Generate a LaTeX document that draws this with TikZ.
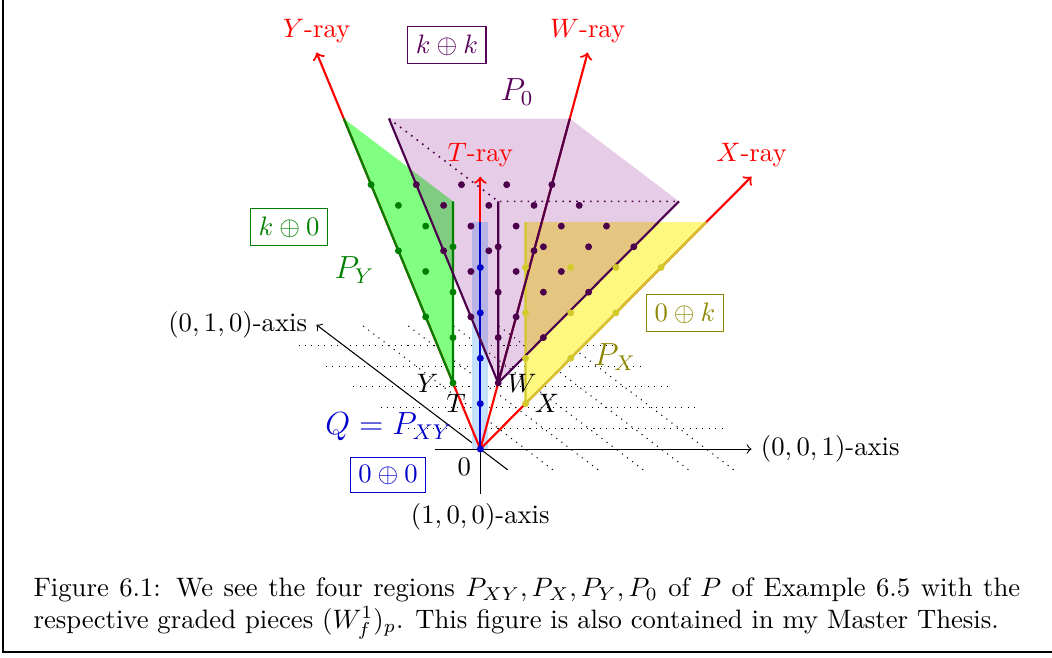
\documentclass[tikz,border=0pt]{standalone}
\usepackage{amsmath,amssymb}
\usetikzlibrary{positioning}
\definecolor{qband}{RGB}{198,224,255}
\tikzset{
  ray/.style={->,red,thick},
  lattice/.style={dotted},
  piecebox/.style={draw,thin,inner sep=3pt},
}
\begin{document}
\begin{tikzpicture}[x={(0cm,0.598cm)},y={(-0.3597cm,0.2727cm)},z={(0.5955cm,0cm)}]
    \useasboundingbox (-6.328cm,-2.740cm) rectangle (7.532cm,5.916cm);
    \draw[line width=0.6pt] (-6.288cm,5.916cm) -- (-6.288cm,-2.675cm) -- (7.532cm,-2.675cm);
    % points
    \coordinate (O) at (0,0,0);
    \coordinate (T) at (1,0,0);
    \coordinate (X) at (1,0,1);
    \coordinate (Y) at (1,1,0);
    \coordinate (W) at (1,1,1);
    \coordinate (T5) at (5,0,0);
    \coordinate (X5) at (5,0,5);
    \coordinate (Y5) at (5,5,0);
    \coordinate (W5) at (5,5,5);
    \coordinate (T6) at (6,0,0);
    \coordinate (X6) at (6,0,6);
    \coordinate (Y6) at (6,6,0);
    \coordinate (W6) at (6,6,6);
    \coordinate (Xc) at (5,0,1);
    \coordinate (Yc) at (5,1,0);
    \coordinate (Wa) at (5,5,1);
    \coordinate (Wb) at (5,1,5);
    \coordinate (Wc) at (5,1,1);
    % lattice in the plane
    \foreach \b in {1,...,5} \draw[lattice] (0,\b,-1) -- (0,\b,6);
    \foreach \c in {1,...,5} \draw[lattice] (0,-1,\c) -- (0,6,\c);
    % axes
    \draw[->] (0,0,-1) -- (0,0,6) node[right] (zaxis) {$(0,0,1)$-axis};
    \draw[->] (0,-1,0) -- (0,6,0) node[left] (yaxis) {$(0,1,0)$-axis};
    \draw (O) -- (-1,0,0) node[below] (xaxis) {$(1,0,0)$-axis};
    % regions
    \fill[green!50] (Y) -- (Y5) -- (Yc) -- cycle;
    \fill[yellow!50] (X) -- (X5) -- (Xc) -- cycle;
    \draw[qband,line width=6pt] (O) -- (T5);
    \fill[violet,fill opacity=0.2] (W) -- (Wa) -- (W5) -- (Wb) -- cycle;
    % rays
    \draw[ray] (O) -- (T6) node[above] (traylab) {$T$-ray};
    \draw[ray] (O) -- (X6) node[above] (xraylab) {$X$-ray};
    \draw[ray] (O) -- (Y6) node[above] (yraylab) {$Y$-ray};
    \draw[ray] (O) -- (W6) node[above] (wraylab) {$W$-ray};
    % edges of the regions
    \draw[green!50!black,thick] (Yc) -- (Y) -- (Y5);
    \draw[yellow!80!black,thick] (Xc) -- (X) -- (X5);
    \draw[blue!80!black,thick] (O) -- (T5);
    \draw[violet!60!black,thick] (W) -- (Wa) (W) -- (W5) (W) -- (Wb) (W) -- (Wc);
    \draw[violet!60!black,semithick,dotted] (Wa) -- (Wc) -- (Wb);
    % lattice points
    \foreach \a in {1,...,4} \foreach \b in {1,...,\a} \fill[green!50!black] (\a,\b,0) circle (1.3pt);
    \foreach \a in {1,...,4} \foreach \c in {1,...,\a} \fill[yellow!80!black] (\a,0,\c) circle (1.3pt);
    \foreach \a in {0,...,4} \fill[blue!80!black] (\a,0,0) circle (1.3pt);
    \foreach \a in {1,...,4} \foreach \b in {1,...,\a} \foreach \c in {1,...,\a}
        \fill[violet!60!black] (\a,\b,\c) circle (1.3pt);
    % labels
    \node[below left] (olab) at (O) {$0$};
    \node[left=2pt] (ylab) at (Y) {$Y$};
    \node[left=2pt] (tlab) at (T) {$T$};
    \node[right] (wlab) at (W) {$W$};
    \node[right] (xlab) at (X) {$X$};
    \node[piecebox,violet!70!black] (kk) at (-0.439cm,5.323cm) {$k\oplus k$};
    \node[violet!70!black,font=\large] (P0) at (0.484cm,4.704cm) {$P_0$};
    \node[piecebox,green!50!black] (k0) at (-2.520cm,2.925cm) {$k\oplus 0$};
    \node[green!50!black,font=\large] (PY) at (-1.657cm,2.358cm) {$P_Y$};
    \node[piecebox,olive] (0k) at (2.696cm,1.792cm) {$0\oplus k$};
    \node[olive,font=\large] (PX) at (1.775cm,1.212cm) {$P_X$};
    \node[blue!80!black,font=\large] (Q) at (-1.203cm,0.290cm) {$Q = P_{XY}$};
    \node[piecebox,blue!80!black] (00) at (-1.216cm,-0.343cm) {$0\oplus 0$};
    % caption
    \node[anchor=north west,inner sep=0pt,text width=13.0cm,align=justify] (caption) at (-5.893cm,-1.686cm)
        {Figure 6.1: We see the four regions $P_{XY}, P_X, P_Y, P_0$ of $P$ of Example 6.5 with the respective graded pieces $(W_f^1)_p$. This figure is also contained in my Master Thesis.};
\end{tikzpicture}
\end{document}
